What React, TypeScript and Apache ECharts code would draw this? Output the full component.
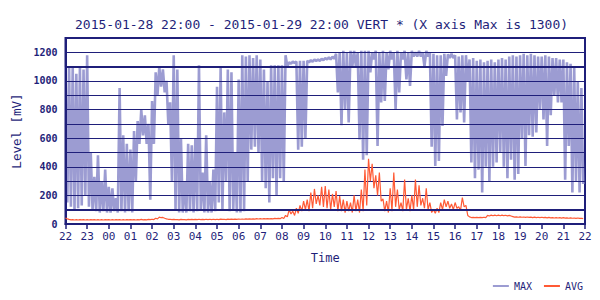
import { useEffect, useRef } from 'react';
import * as echarts from 'echarts';

const titleText = '2015-01-28 22:00 - 2015-01-29 22:00 VERT * (X axis Max is 1300)';
const startHour = 22;
const slotMinutes = 10;
const thresholds = [100, 1100];

// MAX series: per 10-minute slot, upper and lower excursion (mV)
const maxHi = [
  1100, 1090, 1100, 1050, 1100, 1080,
  1180, 500, 330, 480, 300, 380,
  260, 250, 180, 950, 620, 560,
  520, 650, 720, 800, 760, 700,
  860, 1060, 1100, 1080, 1000, 850,
  1180, 1080, 600, 300, 560, 550,
  600, 1110, 360, 620, 300, 380,
  960, 1090, 780, 1080, 1060, 500,
  1010, 1180, 1170, 1180, 1160, 1180,
  1150, 1080, 1000, 1110, 1110, 1110,
  1110, 1180, 1130, 1135, 1135, 1140,
  1140, 1140, 1145, 1150, 1150, 1155,
  1160, 1165, 1170, 1190, 1200, 1210,
  1200, 1210, 1210, 1200, 1210, 1210,
  1210, 1200, 1210, 1200, 1210, 1200,
  1210, 1200, 1210, 1200, 1210, 1200,
  1210, 1200, 1210, 1200, 1210, 1200,
  1190, 1180, 1180, 1190, 1185, 1190,
  1180, 1170, 1180, 1180, 1150, 1160,
  1140, 1150, 1130, 1140, 1150, 1130,
  1150, 1160, 1150, 1170, 1180, 1170,
  1180, 1190, 1180, 1190, 1180, 1170,
  1170, 1180, 1170, 1160, 1160, 1150,
  1150, 1130, 1120, 1100, 1000, 950,
];
const maxLo = [
  150, 120, 100, 110, 130, 200,
  120, 100, 90, 80, 90, 80,
  80, 90, 80, 90, 80, 90,
  80, 300, 560, 620, 560, 170,
  560, 900, 960, 920, 700, 300,
  100, 80, 80, 80, 90, 80,
  90, 100, 80, 80, 80, 90,
  150, 100, 300, 90, 100, 80,
  80, 90, 300, 520, 540, 500,
  300, 250, 150, 320, 200, 320,
  300, 1100, 1120, 1125, 520, 540,
  600, 1130, 1135, 1140, 1140, 1145,
  1150, 1150, 1155, 920, 690, 800,
  710, 1100, 1100, 590, 450, 480,
  1060, 1150, 545, 850, 860, 1080,
  1150, 800, 920, 1150, 1010, 965,
  1170, 1170, 1170, 1100, 1170, 540,
  405, 440, 685, 1035, 1160, 1160,
  730, 780, 710, 1000, 430, 320,
  380, 220, 400, 300, 400, 430,
  500, 400, 320, 450, 310, 350,
  600, 405, 620, 610, 640, 800,
  730, 545, 760, 900, 850, 850,
  310, 545, 220, 300, 220, 280,
];

// AVG series: per 10-minute slot, two readings (mV)
const avgA = [
  42, 32, 30, 30, 31, 30,
  30, 31, 30, 30, 31, 30,
  30, 30, 31, 30, 30, 31,
  31, 30, 31, 32, 31, 32,
  33, 40, 48, 46, 36, 33,
  32, 31, 32, 31, 32, 32,
  32, 33, 32, 33, 33, 33,
  33, 34, 33, 34, 34, 34,
  35, 35, 36, 36, 36, 37,
  37, 38, 38, 38, 39, 39,
  45, 60, 100, 90, 110, 130,
  160, 170, 220, 245, 200, 260,
  266, 240, 210, 230, 195, 170,
  160, 150, 200, 170, 240, 380,
  456, 420, 340, 360, 175, 160,
  250, 360, 240, 150, 310, 180,
  200, 310, 270, 180, 250, 150,
  100, 110, 150, 170, 160, 140,
  150, 120, 184, 130, 50, 46,
  46, 46, 47, 60, 62, 62,
  62, 62, 61, 60, 52, 50,
  50, 49, 49, 48, 48, 47,
  47, 46, 46, 45, 45, 44,
  44, 43, 43, 42, 42, 40,
];
const avgB = [
  36, 29, 28, 28, 29, 28,
  28, 29, 28, 28, 28, 29,
  28, 28, 29, 28, 28, 29,
  29, 28, 29, 29, 29, 30,
  31, 36, 44, 40, 33, 31,
  30, 29, 30, 29, 30, 30,
  30, 31, 30, 31, 31, 31,
  31, 32, 31, 32, 32, 32,
  33, 33, 34, 34, 34, 35,
  35, 36, 36, 36, 37, 37,
  38, 50, 70, 60, 75, 90,
  100, 90, 110, 140, 130, 120,
  110, 100, 120, 90, 90, 80,
  90, 80, 90, 80, 90, 130,
  300, 250, 200, 160, 90, 80,
  90, 120, 100, 90, 100, 90,
  100, 120, 130, 110, 100, 80,
  75, 80, 100, 120, 110, 100,
  110, 95, 120, 60, 45, 44,
  44, 44, 45, 56, 58, 58,
  58, 58, 57, 56, 48, 47,
  47, 46, 46, 45, 45, 44,
  44, 43, 43, 42, 42, 41,
  41, 40, 40, 39, 39, 37,
];

export default function App() {
  const ref = useRef<HTMLDivElement>(null);
  useEffect(() => {
    if (!ref.current) return;
    const chart = echarts.init(ref.current, null, { renderer: 'svg' });
    const navy = '#1f1f7a';
    const font = '"DejaVu Sans Mono", monospace';
    const maxData: number[][] = [];
    const avgData: number[][] = [];
    for (let i = 0; i < maxHi.length; i++) {
      const t = i * slotMinutes;
      maxData.push([t, maxHi[i]], [t + slotMinutes / 2, maxLo[i]]);
      avgData.push([t, avgA[i]], [t + slotMinutes / 2, avgB[i]]);
    }
    chart.setOption({
      animation: false,
      backgroundColor: '#ffffff',
      title: {
        text: titleText,
        left: 70,
        top: 13,
        textStyle: { fontFamily: font, fontSize: 13, fontWeight: 'normal', color: navy },
      },
      legend: {
        data: ['MAX', 'AVG'],
        right: 12,
        top: 276,
        icon: 'rect',
        itemWidth: 16,
        itemHeight: 2,
        itemGap: 12,
        textStyle: { fontFamily: font, fontSize: 10, color: navy },
      },
      grid: { left: 65.5, right: 15, top: 38, bottom: 76, show: true, borderColor: navy, borderWidth: 2, backgroundColor: 'transparent' },
      xAxis: {
        type: 'value',
        min: 0,
        max: 1440,
        interval: 60,
        name: 'Time',
        nameLocation: 'middle',
        nameGap: 28,
        nameTextStyle: { fontFamily: font, fontSize: 12, color: navy },
        axisLine: { lineStyle: { color: navy, width: 2 } },
        axisTick: { show: true, length: 5, lineStyle: { color: navy, width: 1.5 } },
        axisLabel: {
          fontFamily: font,
          fontSize: 11,
          color: navy,
          margin: 7,
          formatter: (v: number) => String((startHour + Math.round(v / 60)) % 24).padStart(2, '0'),
        },
        splitLine: { show: false },
      },
      yAxis: {
        type: 'value',
        min: 0,
        max: 1300,
        interval: 100,
        z: 2,
        name: 'Level [mV]',
        nameLocation: 'middle',
        nameGap: 38,
        nameTextStyle: { fontFamily: font, fontSize: 12.5, color: navy },
        axisLine: { show: true, lineStyle: { color: navy, width: 2 } },
        axisTick: { show: false },
        axisLabel: {
          fontFamily: font,
          fontSize: 10,
          fontWeight: 'bold',
          color: navy,
          margin: 8,
          formatter: (v: number) => (v % 200 === 0 ? String(v) : ''),
        },
        splitLine: { show: true, lineStyle: { color: navy, width: 1.2 } },
      },
      series: [
        {
          name: 'MAX',
          type: 'line',
          data: maxData,
          showSymbol: false,
          symbol: 'none',
          z: 1,
          lineStyle: { color: '#9c9cd2', width: 2.6, join: 'bevel' },
          itemStyle: { color: '#9c9cd2' },
          markLine: {
            silent: true,
            symbol: 'none',
            label: { show: false },
            lineStyle: { color: navy, width: 2.2, type: 'solid' },
            data: thresholds.map((v) => ({ yAxis: v })),
          },
        },
        {
          name: 'AVG',
          type: 'line',
          data: avgData,
          showSymbol: false,
          symbol: 'none',
          z: 3,
          lineStyle: { color: '#ff5a35', width: 1.2 },
          itemStyle: { color: '#ff5a35' },
        },
      ],
    });
    return () => chart.dispose();
  }, []);
  return <div ref={ref} style={{ position: 'fixed', left: 0, top: 0, width: 600, height: 300 }} />;
}
